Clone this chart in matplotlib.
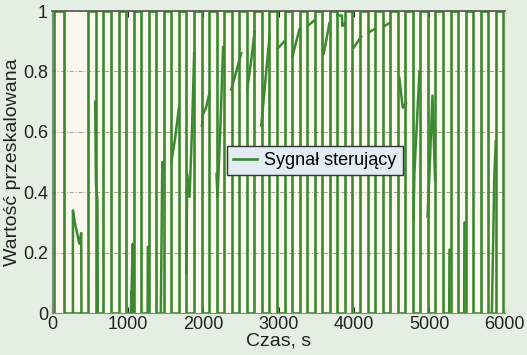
import matplotlib
matplotlib.use("Agg")
import matplotlib.pyplot as plt
import numpy as np

plt.rcParams['font.family'] = ['Liberation Sans', 'DejaVu Sans']

# Square-wave switching times (s)
rise_times = [30, 480, 680, 880, 1080, 1280, 1480, 1680, 1880, 2080, 2280, 2480, 2680,
              2880, 3080, 3280, 3480, 3680, 3880, 4080, 4280, 4480, 4680, 4880, 5080,
              5280, 5480, 5680, 5880]
fall_times = [160, 580, 780, 980, 1180, 1380, 1580, 1780, 1980, 2180, 2380, 2580, 2780,
              2980, 3180, 3380, 3580, 3780, 3980, 4180, 4380, 4580, 4780, 4980, 5180,
              5380, 5580, 5780, 5980]

# Intermediate-level pieces of the signal during the low phases (time s, value)
seg_t = [
    [275, 275, 300, 330, 360, 385, 388],
    [570, 580, 600, 605],
    [1045, 1048, 1052, 1068, 1070, 1076],
    [1265, 1268, 1278],
    [1440, 1460, 1480],
    [1580, 1630, 1680],
    [1777, 1790, 1821, 1855, 1882],
    [1985, 2000, 2040, 2086],
    [2178, 2192, 2230, 2265],
    [2373, 2440, 2506],
    [2585, 2640, 2682],
    [2771, 2830, 2881],
    [2985, 3079],
    [3185, 3278],
    [3384, 3477],
    [3600, 3675],
    [3780, 3840, 3846, 3880],
    [4000, 4095],
    [4200, 4272],
    [4400, 4470],
    [4600, 4646, 4690],
    [4790, 4800, 4868],
    [4975, 5000, 5040, 5075],
    [5262, 5266, 5276],
    [5460, 5464, 5476],
    [5828, 5835, 5860, 5880],
]
seg_v = [
    [0.0, 0.34, 0.30, 0.265, 0.23, 0.265, 0.0],
    [0.70, 0.43, 0.37, 0.0],
    [0.0, 0.07, 0.07, 0.23, 0.23, 0.0],
    [0.0, 0.22, 0.22],
    [0.0, 0.50, 0.48],
    [0.50, 0.58, 0.68],
    [0.13, 0.46, 0.385, 0.62, 0.86],
    [0.62, 0.66, 0.68, 0.73],
    [0.46, 0.385, 0.62, 0.88],
    [0.74, 0.80, 0.86],
    [0.74, 0.84, 0.93],
    [0.62, 0.78, 0.915],
    [0.875, 0.90],
    [0.85, 0.94],
    [0.95, 0.97],
    [0.86, 0.96],
    [0.985, 0.985, 0.95, 0.96],
    [0.88, 0.915],
    [0.93, 0.94],
    [0.95, 0.96],
    [0.78, 0.68, 0.695],
    [0.31, 0.46, 0.80],
    [0.32, 0.46, 0.72, 0.44],
    [0.0, 0.21, 0.21],
    [0.0, 0.30, 0.30],
    [0.0, 0.10, 0.45, 0.57],
]

x_ticks = [0, 1000, 2000, 3000, 4000, 5000, 6000]
y_ticks = [0, 0.2, 0.4, 0.6, 0.8, 1.0]
y_tick_labels = ["0", "0.2", "0.4", "0.6", "0.8", "1"]

green = '#3b8a2f'

fig = plt.figure(figsize=(5.27, 3.55), dpi=100)
fig.patch.set_facecolor('#e5eee2')
ax = fig.add_axes([0.099, 0.118, 0.859, 0.851])
ax.set_facecolor('#fdf8ef')

# build square wave
t = [0.0]
v = [0.0]
for r, f in zip(rise_times, fall_times):
    t += [r, r, f, f]
    v += [0.0, 1.0, 1.0, 0.0]
t.append(6000)
v.append(0.0)
ax.plot(t, v, color=green, lw=1.9, label='Sygnał sterujący', solid_joinstyle='miter')
for st, sv in zip(seg_t, seg_v):
    ax.plot(st, sv, color=green, lw=1.8)

ax.set_xlim(0, 6000)
ax.set_ylim(0, 1)
ax.set_xticks(x_ticks)
ax.set_yticks(y_ticks)
ax.set_yticklabels(y_tick_labels)
ax.tick_params(axis='both', labelsize=13, colors='#222222', direction='in', length=4,
               top=True, right=False, pad=2)
ax.tick_params(axis='y', length=0, pad=3)
ax.yaxis.grid(True, color='#a89a88', linestyle=(0, (4, 2, 1, 2)), lw=0.7)

ax.spines['top'].set_color('#555555')
ax.spines['top'].set_linewidth(1.2)
ax.spines['right'].set_color('#dddddd')
ax.spines['left'].set_color('#888888')
ax.spines['bottom'].set_color('#888888')

ax.set_xlabel('Czas, s', fontsize=14, color='#222222', labelpad=0)
ax.set_ylabel('Wartość przeskalowana', fontsize=14, color='#222222', labelpad=1)

leg = ax.legend(loc='center', bbox_to_anchor=(0.58, 0.505), fontsize=13,
                frameon=True, fancybox=False, handlelength=1.3, handletextpad=0.4,
                borderpad=0.35)
leg.get_frame().set_facecolor('#e3ebf3')
leg.get_frame().set_edgecolor('#333333')
leg.get_frame().set_alpha(1)

fig.savefig('out.png', dpi=100, facecolor=fig.get_facecolor())
